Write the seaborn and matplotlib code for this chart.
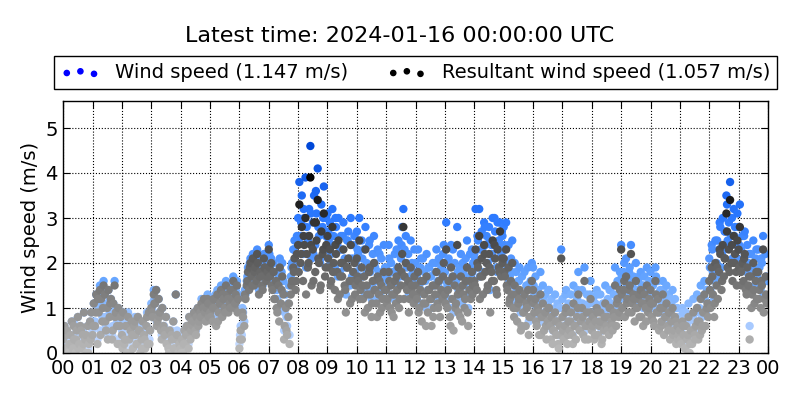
import numpy as np
import pandas as pd
import matplotlib
matplotlib.use("Agg")
import matplotlib.pyplot as plt
from matplotlib.colors import LinearSegmentedColormap
import seaborn as sns

# values, one row per hour
hour_labels = ["%02d" % h for h in range(24)] + ["00"]

# every 2.5 min
resultant_ms = [
    [0.3, 0.6, 0.1, 0.5, 0.0, 0.2, 0.4, 0.7, 0.1, 0.3, 0.0, 0.5, 0.8, 0.2, 0.6, 0.1, 0.4, 0.9, 0.3, 0.0, 0.6, 0.2, 0.7, 0.9],
    [0.4, 1.1, 0.6, 1.3, 0.2, 0.9, 1.4, 1.2, 0.7, 1.5, 1.3, 0.5, 1.0, 1.4, 0.8, 1.2, 0.3, 1.1, 1.5, 0.9, 0.6, 1.0, 0.2, 0.8],
    [0.4, 0.9, 0.2, 0.6, 0.0, 0.8, 0.3, 0.5, 0.7, 0.1, 0.6, 0.4, 0.2, 0.8, 0.5, 0.0, 0.3, 0.7, 0.4, 0.1, 0.6, 0.2, 0.9, 0.5],
    [1.0, 0.8, 1.3, 1.1, 1.4, 0.7, 1.2, 0.9, 0.5, 1.0, 0.6, 0.4, 0.8, 0.2, 0.1, 0.5, 0.0, 0.3, 0.7, 0.1, 1.3, 0.4, 0.0, 0.2],
    [0.1, 0.3, 0.0, 0.5, 0.2, 0.6, 0.4, 0.8, 0.3, 0.7, 0.6, 0.9, 0.5, 0.8, 1.0, 0.7, 0.9, 1.1, 0.8, 1.2, 0.9, 1.0, 1.2, 0.8],
    [0.9, 1.1, 0.7, 1.2, 1.0, 0.6, 1.3, 0.9, 1.1, 1.4, 0.8, 1.2, 1.0, 1.5, 1.3, 0.9, 1.1, 1.4, 1.2, 1.6, 1.0, 1.3, 1.5, 1.2],
    [0.1, 0.5, 0.3, 0.8, 0.6, 1.2, 1.5, 1.8, 1.4, 2.0, 1.7, 2.1, 1.5, 1.9, 1.6, 2.0, 1.3, 1.8, 1.7, 1.4, 2.1, 1.9, 1.6, 1.8],
    [2.3, 1.7, 2.0, 1.4, 1.8, 1.2, 1.6, 0.9, 1.5, 1.9, 1.1, 1.7, 1.3, 0.6, 1.0, 0.4, 0.8, 0.2, 1.3, 1.6, 1.9, 2.1, 1.4, 2.2],
    [2.4, 3.3, 2.0, 2.8, 1.6, 2.4, 3.0, 2.2, 1.9, 2.6, 3.9, 1.5, 2.3, 2.9, 1.8, 2.5, 3.4, 2.0, 1.4, 2.7, 2.2, 3.1, 1.7, 2.4],
    [2.6, 1.9, 2.3, 1.6, 2.8, 2.0, 1.4, 2.2, 1.8, 2.5, 1.3, 2.0, 1.7, 2.3, 1.5, 0.9, 1.9, 2.1, 1.6, 2.4, 1.2, 1.8, 2.0, 1.5],
    [2.1, 1.6, 2.5, 1.4, 1.9, 1.2, 1.7, 2.3, 1.5, 1.0, 1.8, 1.3, 0.8, 1.6, 2.0, 1.4, 1.1, 1.7, 1.3, 0.9, 1.5, 1.2, 1.8, 1.4],
    [1.4, 1.2, 1.8, 1.0, 1.5, 1.3, 0.8, 1.6, 1.1, 1.4, 1.9, 1.2, 1.5, 2.2, 2.8, 1.7, 2.0, 1.4, 1.6, 1.2, 1.9, 1.5, 1.3, 1.7],
    [1.5, 1.2, 1.8, 1.0, 1.4, 0.7, 1.6, 1.3, 1.1, 1.7, 0.9, 1.4, 1.2, 0.6, 1.5, 1.0, 1.3, 1.8, 1.1, 1.6, 0.8, 1.4, 1.2, 2.0],
    [1.3, 2.3, 1.0, 1.6, 0.8, 1.9, 1.2, 0.5, 1.5, 1.1, 2.4, 0.9, 1.4, 1.7, 0.7, 1.3, 1.0, 1.6, 1.9, 0.6, 1.4, 1.2, 1.8, 1.5],
    [1.6, 2.3, 1.4, 1.9, 2.6, 1.7, 2.1, 1.3, 2.4, 1.8, 2.0, 1.5, 2.2, 0.9, 1.8, 2.5, 1.6, 2.1, 1.4, 2.3, 1.9, 2.7, 1.7, 2.0],
    [2.1, 1.7, 2.3, 1.4, 1.9, 1.2, 1.6, 2.0, 1.0, 1.5, 1.3, 0.7, 1.1, 1.4, 0.5, 1.2, 0.9, 1.3, 0.6, 1.0, 1.4, 0.8, 1.2, 1.6],
    [1.4, 0.9, 1.2, 0.6, 1.0, 0.4, 1.3, 0.8, 1.1, 0.5, 0.9, 0.3, 0.7, 1.0, 0.6, 0.8, 0.2, 0.5, 0.9, 0.4, 0.7, 0.1, 0.6, 2.1],
    [0.8, 0.3, 0.6, 1.0, 0.2, 0.7, 0.5, 0.9, 0.4, 1.1, 0.6, 0.3, 0.8, 1.3, 0.5, 0.7, 1.0, 0.4, 1.6, 0.6, 0.9, 0.3, 0.7, 1.2],
    [0.5, 0.8, 0.3, 0.7, 1.0, 0.4, 0.6, 0.9, 0.2, 0.7, 0.5, 1.1, 0.6, 0.8, 0.4, 1.0, 0.7, 0.5, 0.9, 1.5, 0.6, 1.2, 0.8, 1.4],
    [2.3, 1.0, 1.4, 0.8, 1.7, 1.2, 0.9, 1.5, 2.2, 1.1, 1.3, 0.7, 1.6, 1.0, 1.2, 0.8, 1.4, 1.1, 0.6, 1.3, 1.0, 1.5, 0.9, 1.2],
    [1.4, 0.8, 1.1, 0.6, 1.6, 0.9, 1.2, 0.5, 1.0, 0.7, 1.3, 0.4, 0.8, 1.1, 0.6, 0.9, 0.3, 0.7, 1.0, 0.5, 0.8, 0.2, 0.6, 0.4],
    [0.5, 0.2, 0.7, 0.4, 0.1, 0.6, 0.3, 0.8, 0.0, 0.5, 0.2, 0.9, 0.4, 0.6, 1.0, 0.3, 0.7, 1.2, 0.5, 0.9, 1.3, 0.6, 1.0, 0.8],
    [1.6, 1.0, 1.9, 1.3, 0.8, 2.0, 1.5, 1.2, 1.8, 2.2, 1.4, 2.4, 1.7, 2.1, 3.1, 1.9, 2.3, 3.4, 2.0, 1.6, 2.6, 2.2, 1.8, 2.5],
    [2.3, 2.8, 1.8, 2.0, 1.6, 2.2, 1.4, 1.9, 1.5, 0.3, 1.7, 1.3, 2.0, 1.1, 1.6, 1.2, 1.8, 1.4, 1.0, 1.5, 2.3, 1.2, 1.7, 1.1],
]

wind_ms = [
    [0.3, 0.6, 0.2, 0.5, 0.1, 0.3, 0.4, 0.7, 0.1, 0.4, 0.1, 0.5, 0.8, 0.2, 0.6, 0.2, 0.5, 0.9, 0.3, 0.1, 0.6, 0.3, 0.7, 0.9],
    [0.5, 1.1, 0.7, 1.3, 0.3, 1.0, 1.5, 1.2, 0.8, 1.6, 1.3, 0.6, 1.1, 1.4, 0.9, 1.2, 0.4, 1.1, 1.6, 1.0, 0.7, 1.0, 0.3, 0.8],
    [0.5, 0.9, 0.3, 0.6, 0.1, 0.9, 0.3, 0.6, 0.7, 0.2, 0.6, 0.5, 0.3, 0.8, 0.5, 0.1, 0.4, 0.7, 0.5, 0.2, 0.6, 0.3, 0.9, 0.5],
    [1.1, 0.8, 1.4, 1.1, 1.4, 0.8, 1.2, 0.9, 0.6, 1.0, 0.6, 0.5, 0.8, 0.3, 0.2, 0.5, 0.1, 0.4, 0.7, 0.2, 1.3, 0.5, 0.1, 0.3],
    [0.2, 0.4, 0.1, 0.5, 0.3, 0.6, 0.5, 0.8, 0.4, 0.8, 0.6, 0.9, 0.6, 0.9, 1.0, 0.8, 1.0, 1.2, 0.9, 1.2, 1.0, 1.1, 1.3, 0.9],
    [1.0, 1.2, 0.8, 1.2, 1.1, 0.7, 1.4, 1.0, 1.2, 1.5, 0.9, 1.3, 1.1, 1.6, 1.4, 1.0, 1.2, 1.5, 1.3, 1.7, 1.1, 1.4, 1.6, 1.3],
    [0.2, 0.6, 0.4, 0.9, 0.7, 1.3, 1.6, 1.9, 1.5, 2.1, 1.8, 2.2, 1.6, 2.0, 1.7, 2.1, 1.4, 1.9, 1.8, 1.5, 2.2, 2.0, 1.7, 1.9],
    [2.4, 1.9, 2.1, 1.6, 2.0, 1.4, 1.8, 1.2, 1.7, 2.1, 1.4, 2.0, 1.6, 0.9, 1.3, 0.6, 1.1, 0.4, 1.7, 2.0, 2.3, 2.5, 1.9, 2.6],
    [3.0, 3.8, 2.6, 3.5, 2.2, 3.0, 3.9, 2.8, 2.5, 3.2, 4.6, 2.1, 2.9, 3.5, 2.4, 3.1, 4.1, 2.6, 2.0, 3.3, 2.8, 3.7, 2.3, 3.0],
    [3.1, 2.5, 2.9, 2.2, 3.2, 2.6, 1.9, 2.8, 2.4, 3.0, 1.8, 2.6, 2.3, 2.9, 2.1, 1.3, 2.5, 2.7, 2.1, 3.0, 1.7, 2.4, 2.6, 2.0],
    [2.7, 2.2, 3.0, 1.9, 2.5, 1.7, 2.3, 2.8, 2.0, 1.4, 2.4, 1.8, 1.2, 2.2, 2.6, 1.9, 1.6, 2.3, 1.8, 1.3, 2.1, 1.7, 2.4, 1.9],
    [1.9, 1.7, 2.4, 1.5, 2.0, 1.8, 1.2, 2.2, 1.6, 1.9, 2.5, 1.7, 2.1, 2.8, 3.2, 2.3, 2.6, 1.9, 2.2, 1.7, 2.5, 2.0, 1.8, 2.3],
    [2.0, 1.7, 2.3, 1.5, 1.9, 1.1, 2.1, 1.8, 1.6, 2.2, 1.4, 1.9, 1.7, 1.0, 2.0, 1.5, 1.8, 2.3, 1.6, 2.1, 1.2, 1.9, 1.7, 2.4],
    [1.8, 2.9, 1.5, 2.1, 1.2, 2.4, 1.7, 0.9, 2.0, 1.6, 2.8, 1.4, 1.9, 2.2, 1.1, 1.8, 1.5, 2.1, 2.5, 1.0, 1.9, 1.7, 2.3, 2.0],
    [2.2, 3.2, 1.9, 2.5, 3.2, 2.3, 2.7, 1.8, 2.9, 2.4, 2.6, 2.0, 2.8, 1.4, 2.4, 3.0, 2.1, 2.7, 1.9, 2.9, 2.5, 2.9, 2.2, 2.6],
    [2.8, 2.3, 2.9, 1.9, 2.4, 1.7, 2.1, 2.5, 1.5, 2.0, 1.8, 1.1, 1.6, 1.9, 0.9, 1.7, 1.3, 1.8, 1.0, 1.5, 1.9, 1.2, 1.6, 2.0],
    [1.9, 1.3, 1.7, 1.0, 1.4, 0.8, 1.8, 1.2, 1.5, 0.9, 1.3, 0.6, 1.1, 1.4, 1.0, 1.2, 0.5, 0.9, 1.3, 0.7, 1.1, 0.4, 1.0, 2.3],
    [1.2, 0.6, 1.0, 1.4, 0.5, 1.1, 0.9, 1.3, 0.7, 1.5, 1.0, 0.6, 1.2, 1.8, 0.9, 1.1, 1.4, 0.7, 1.9, 1.0, 1.3, 0.6, 1.1, 1.6],
    [0.8, 1.2, 0.6, 1.1, 1.4, 0.7, 1.0, 1.3, 0.5, 1.1, 0.9, 1.5, 1.0, 1.2, 0.7, 1.4, 1.1, 0.9, 1.3, 1.9, 1.0, 1.6, 1.2, 1.8],
    [2.4, 1.4, 1.8, 1.2, 2.1, 1.6, 1.3, 1.9, 2.4, 1.5, 1.7, 1.1, 2.0, 1.4, 1.6, 1.2, 1.8, 1.5, 1.0, 1.7, 1.4, 1.9, 1.3, 1.6],
    [1.8, 1.2, 1.5, 1.0, 1.9, 1.3, 1.6, 0.9, 1.4, 1.1, 1.6, 0.7, 1.2, 1.5, 1.0, 1.3, 0.6, 1.1, 1.4, 0.8, 1.2, 0.5, 1.0, 0.8],
    [0.8, 0.5, 1.0, 0.7, 0.3, 0.9, 0.6, 1.1, 0.2, 0.8, 0.5, 1.2, 0.7, 0.9, 1.3, 0.6, 1.0, 1.5, 0.8, 1.2, 1.6, 0.9, 1.4, 1.1],
    [2.1, 1.4, 2.4, 1.8, 1.2, 2.5, 2.0, 1.7, 2.3, 2.8, 1.9, 3.0, 2.3, 2.7, 3.5, 2.5, 2.9, 3.8, 2.6, 2.1, 3.2, 2.8, 2.4, 3.1],
    [2.8, 3.3, 2.3, 2.6, 2.1, 2.7, 1.9, 2.4, 2.0, 0.6, 2.2, 1.8, 2.5, 1.5, 2.1, 1.7, 2.3, 1.9, 1.4, 2.0, 2.6, 1.6, 2.2, 1.6],
]

# in-between samples (every 5 min, offset)
resultant_extra = [
    [0.1, 0.4, 0.0, 0.2, 0.6, 0.3, 0.1, 0.5, 0.2, 0.4, 0.0, 0.3],
    [0.6, 0.9, 1.2, 0.4, 1.0, 0.7, 0.3, 1.1, 0.5, 0.8, 0.2, 0.6],
    [0.1, 0.3, 0.6, 0.0, 0.4, 0.7, 0.2, 0.5, 0.1, 0.3, 0.8, 0.2],
    [0.9, 1.1, 0.6, 0.8, 0.3, 0.5, 0.2, 0.0, 0.4, 0.1, 0.3, 0.0],
    [0.0, 0.2, 0.4, 0.1, 0.5, 0.7, 0.4, 0.6, 0.8, 1.0, 0.7, 1.1],
    [0.8, 1.0, 1.2, 0.7, 1.1, 1.3, 0.9, 1.2, 1.0, 1.4, 1.1, 0.9],
    [0.3, 0.9, 1.3, 1.6, 1.9, 1.5, 1.8, 2.2, 1.7, 1.5, 1.9, 1.7],
    [1.9, 1.5, 1.2, 1.0, 0.7, 1.4, 0.3, 0.5, 1.1, 1.5, 1.8, 1.6],
    [1.8, 2.2, 2.6, 1.3, 2.0, 2.4, 1.6, 2.9, 2.1, 1.5, 2.3, 1.9],
    [2.1, 1.5, 1.8, 2.4, 1.2, 1.7, 2.0, 1.4, 1.9, 1.1, 1.6, 1.3],
    [1.7, 1.2, 1.5, 0.9, 1.3, 1.9, 1.1, 1.4, 0.8, 1.6, 1.0, 1.2],
    [1.1, 1.6, 0.9, 1.3, 1.7, 1.0, 1.8, 1.2, 1.5, 0.9, 1.4, 1.1],
    [1.3, 0.9, 1.6, 1.1, 0.6, 1.4, 1.2, 0.8, 1.5, 1.0, 1.3, 1.7],
    [1.1, 1.4, 0.6, 1.7, 1.0, 1.3, 0.8, 1.5, 1.2, 0.9, 1.6, 1.3],
    [1.5, 2.0, 1.2, 1.7, 2.2, 1.4, 1.9, 1.6, 2.4, 1.3, 1.8, 2.1],
    [1.8, 1.5, 1.1, 1.3, 0.8, 1.0, 1.2, 0.6, 0.9, 1.1, 0.4, 0.8],
    [1.1, 0.7, 0.9, 0.4, 0.8, 0.6, 1.0, 0.3, 0.5, 0.7, 0.2, 0.4],
    [0.5, 0.9, 0.4, 0.7, 0.2, 0.6, 1.0, 0.5, 0.8, 0.3, 0.6, 0.9],
    [0.6, 0.4, 0.9, 0.7, 0.3, 0.8, 0.5, 1.0, 0.6, 0.8, 1.1, 0.9],
    [1.3, 1.6, 1.1, 1.4, 0.9, 1.2, 1.0, 1.3, 0.8, 1.1, 0.7, 1.0],
    [1.1, 0.7, 1.3, 0.9, 0.6, 1.0, 0.8, 0.5, 0.9, 0.4, 0.7, 0.3],
    [0.3, 0.6, 0.1, 0.4, 0.2, 0.5, 0.3, 0.7, 0.4, 0.6, 0.9, 1.1],
    [1.4, 1.7, 1.1, 1.9, 2.3, 1.6, 2.1, 2.7, 1.8, 2.4, 2.0, 1.5],
    [1.9, 1.5, 2.1, 1.3, 1.7, 1.0, 1.4, 1.8, 1.2, 1.6, 0.9, 1.3],
]

wind_extra = [
    [0.2, 0.5, 0.1, 0.3, 0.7, 0.4, 0.2, 0.5, 0.3, 0.4, 0.1, 0.4],
    [0.7, 1.1, 1.3, 0.5, 1.1, 0.8, 0.4, 1.2, 0.6, 0.9, 0.3, 0.7],
    [0.2, 0.4, 0.7, 0.1, 0.5, 0.8, 0.3, 0.6, 0.2, 0.4, 0.9, 0.3],
    [1.0, 1.2, 0.7, 0.9, 0.4, 0.6, 0.3, 0.1, 0.5, 0.2, 0.4, 0.1],
    [0.1, 0.3, 0.5, 0.2, 0.6, 0.8, 0.5, 0.7, 0.9, 1.1, 0.8, 1.2],
    [0.9, 1.1, 1.3, 0.8, 1.2, 1.4, 1.0, 1.3, 1.1, 1.5, 1.2, 1.0],
    [0.4, 1.0, 1.4, 1.7, 2.0, 1.7, 2.0, 2.3, 1.9, 1.7, 2.1, 1.9],
    [2.2, 1.8, 1.5, 1.4, 1.0, 1.8, 0.5, 0.8, 1.5, 1.9, 2.3, 2.0],
    [2.5, 2.9, 3.2, 1.9, 2.6, 3.1, 2.2, 3.6, 2.8, 2.1, 3.0, 2.6],
    [2.7, 2.0, 2.4, 3.0, 1.7, 2.3, 2.6, 1.9, 2.5, 1.5, 2.1, 1.8],
    [2.3, 1.7, 2.1, 1.3, 1.8, 2.5, 1.5, 2.0, 1.2, 2.2, 1.4, 1.7],
    [1.6, 2.1, 1.3, 1.8, 2.3, 1.5, 2.4, 1.7, 2.0, 1.3, 1.9, 1.6],
    [1.8, 1.3, 2.1, 1.6, 1.0, 1.9, 1.7, 1.2, 2.0, 1.5, 1.8, 2.2],
    [1.6, 2.0, 1.0, 2.3, 1.5, 1.8, 1.2, 2.0, 1.7, 1.3, 2.2, 1.8],
    [2.1, 2.6, 1.7, 2.3, 2.8, 2.0, 2.5, 2.2, 3.0, 1.8, 2.4, 2.7],
    [2.4, 2.0, 1.6, 1.8, 1.2, 1.4, 1.6, 1.0, 1.3, 1.5, 0.7, 1.1],
    [1.5, 1.1, 1.3, 0.7, 1.2, 0.9, 1.4, 0.6, 0.8, 1.0, 0.4, 0.6],
    [0.8, 1.3, 0.7, 1.0, 0.4, 0.9, 1.4, 0.8, 1.1, 0.5, 0.9, 1.3],
    [0.9, 0.7, 1.3, 1.0, 0.5, 1.1, 0.8, 1.4, 0.9, 1.1, 1.5, 1.2],
    [1.7, 2.0, 1.5, 1.8, 1.3, 1.6, 1.4, 1.7, 1.2, 1.5, 1.0, 1.4],
    [1.5, 1.0, 1.7, 1.3, 0.9, 1.4, 1.1, 0.8, 1.2, 0.7, 1.0, 0.5],
    [0.5, 0.9, 0.3, 0.7, 0.4, 0.8, 0.5, 1.0, 0.6, 0.9, 1.2, 1.4],
    [1.9, 2.3, 1.6, 2.5, 2.9, 2.2, 2.7, 3.3, 2.4, 3.0, 2.6, 2.1],
    [2.4, 2.0, 2.6, 1.8, 2.2, 1.4, 1.9, 2.3, 1.6, 2.1, 1.3, 1.7],
]

mean_wind = 1.147
mean_resultant = 1.057

# long format table: one row per sample
rows = []
for h in range(24):
    n = len(wind_ms[h])
    for j in range(n):
        rows.append({"hour": h + j / n, "wind": wind_ms[h][j], "resultant": resultant_ms[h][j]})
    m = len(wind_extra[h])
    for k in range(m):
        rows.append({"hour": h + (k + 0.25) / m, "wind": wind_extra[h][k], "resultant": resultant_extra[h][k]})
df = pd.DataFrame(rows).sort_values("hour")

blue_cmap = LinearSegmentedColormap.from_list("wind", ["#cfe0ff", "#6aa8ff", "#2a78ff", "#0048d8"])
gray_cmap = LinearSegmentedColormap.from_list("res", ["#bcbcbc", "#8c8c8c", "#5e5e5e", "#2e2e2e", "#000000"])

plt.rcParams["font.family"] = ["DejaVu Sans"]
fig = plt.figure(figsize=(8, 4), dpi=100)
ax = fig.add_axes([0.079, 0.1175, 0.881, 0.63])

sns.scatterplot(data=df, x="hour", y="wind", hue="wind", palette=blue_cmap,
                hue_norm=(0, 4.6), s=36, linewidth=0, legend=False, ax=ax)
sns.scatterplot(data=df, x="hour", y="resultant", hue="resultant", palette=gray_cmap,
                hue_norm=(0, 4.0), s=36, linewidth=0, legend=False, ax=ax)

ax.set_xlim(0, 24)
ax.set_ylim(0, 5.6)
ax.set_xticks(range(25))
ax.set_xticklabels(hour_labels, fontsize=14)
ax.set_yticks(range(6))
ax.set_yticklabels([str(v) for v in range(6)], fontsize=14)
ax.tick_params(direction="in", top=True, right=True, length=5, pad=4)
ax.grid(True, color="black", linestyle=":", linewidth=0.8)
ax.set_axisbelow(True)
ax.set_xlabel("")
ax.set_ylabel("Wind speed (m/s)", fontsize=14)
for sp in ax.spines.values():
    sp.set_linewidth(1.0)

h1 = ax.scatter([], [], color="blue", s=14)
h2 = ax.scatter([], [], color="black", s=14)
leg = ax.legend([h1, h2], ["Wind speed (%.3f m/s)" % mean_wind, "Resultant wind speed (%.3f m/s)" % mean_resultant],
                loc="lower center", bbox_to_anchor=(0.5, 1.048), borderaxespad=0, ncol=2, fontsize=14,
                scatterpoints=3, fancybox=False, framealpha=1,
                edgecolor="black", handletextpad=0.8, columnspacing=2.0, borderpad=0.35)
leg.get_frame().set_linewidth(1.0)

fig.suptitle("Latest time: 2024-01-16 00:00:00 UTC", fontsize=16, y=0.935)

fig.savefig("out.png", dpi=100)
